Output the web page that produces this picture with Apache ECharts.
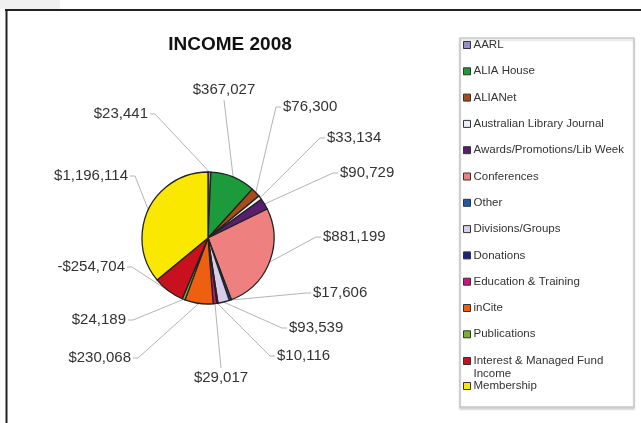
<!DOCTYPE html>
<html>
<head>
<meta charset="utf-8">
<script src="https://cdn.jsdelivr.net/npm/echarts@6/dist/echarts.min.js"></script>
<style>
html,body{margin:0;padding:0;background:#fff;}
#c{width:641px;height:423px;}
</style>
</head>
<body>
<div id="c"></div>
<script>
const categories = [
  'AARL', 'ALIA House', 'ALIANet', 'Australian Library Journal',
  'Awards/Promotions/Lib Week', 'Conferences', 'Other', 'Divisions/Groups',
  'Donations', 'Education & Training', 'inCite', 'Publications',
  'Interest & Managed Fund Income', 'Membership'
];
const amounts = [
  23441, 367027, 76300, 33134,
  90729, 881199, 17606, 93539,
  10116, 29017, 230068, 24189,
  -254704, 1196114
];
const colors = [
  '#9490c8', '#1d9a3c', '#a84a1a', '#e8eef5',
  '#5a1e6e', '#ee8080', '#1f5aa6', '#d6cdeb',
  '#1a2580', '#d0127a', '#ee6010', '#78b030',
  '#c8101e', '#fbe800'
];
const titleText = 'INCOME 2008';

// label placement (layout only): side of the leader end, anchor x, anchor y
const labelAnchors = [
  ['l', 155, 114], ['b', 224, 100], ['r', 276, 107], ['r', 320, 138],
  ['r', 333, 173], ['r', 316, 237], ['r', 306, 293], ['r', 282, 328],
  ['r', 270, 356], ['t', 221, 368], ['l', 138, 358], ['l', 133, 320],
  ['l', 132, 267], ['l', 135, 176]
];

function fmt(v) {
  return (v < 0 ? '-' : '') + '$' + Math.abs(v).toLocaleString('en-US');
}

const pieData = categories.map((name, i) => ({
  name: name,
  value: Math.abs(amounts[i]),
  raw: amounts[i],
  itemStyle: { color: colors[i] }
}));

const FONT = 'Liberation Sans, Arial, sans-serif';
const legendBase = {
  orient: 'vertical',
  left: 463,
  padding: 0,
  icon: 'rect',
  itemWidth: 7,
  itemHeight: 7,
  itemStyle: { borderColor: '#333', borderWidth: 1 },
  textStyle: { fontFamily: FONT, fontSize: 11.5, color: '#333', lineHeight: 13, padding: [0, 0, 0, -2] },
  selectedMode: false
};

const chart = echarts.init(document.getElementById('c'), null, { renderer: 'canvas' });
chart.setOption({
  backgroundColor: '#fff',
  animation: false,
  title: {
    text: titleText,
    left: 225, top: 30,
    textAlign: 'center',
    textStyle: { fontFamily: FONT, fontSize: 19, fontWeight: 'bold', color: '#111' }
  },
  graphic: [
    { type: 'rect', shape: { x: 0, y: 0, width: 60, height: 9 }, style: { fill: '#f0f0f0' }, z: -1 },
    { type: 'line', shape: { x1: 5, y1: 10, x2: 641, y2: 10 }, style: { stroke: '#222', lineWidth: 2 } },
    { type: 'line', shape: { x1: 6.5, y1: 10, x2: 6.5, y2: 423 }, style: { stroke: '#222', lineWidth: 2 } },
    { type: 'rect', shape: { x: 460, y: 38, width: 174, height: 369 },
      style: { fill: '#fff', stroke: '#c8c8c8', lineWidth: 1.5, shadowColor: 'rgba(0,0,0,0.15)', shadowOffsetY: 2, shadowBlur: 2 }, z: -1 }
  ],
  legend: [
    Object.assign({}, legendBase, {
      top: 38.5,
      itemGap: 13.3,
      data: categories.slice(0, 12)
    }),
    Object.assign({}, legendBase, {
      top: 354.5,
      itemHeight: 20,
      icon: 'path://M0,0L7,0L7,7L0,7Z M0,20',
      data: [categories[12]],
      formatter: () => 'Interest & Managed Fund\nIncome'
    }),
    Object.assign({}, legendBase, {
      top: 379.5,
      data: [categories[13]]
    })
  ],
  series: [{
    type: 'pie',
    center: [208, 238],
    radius: 66,
    startAngle: 90,
    clockwise: true,
    avoidLabelOverlap: false,
    itemStyle: { borderColor: '#222', borderWidth: 1.3 },
    label: {
      show: true,
      position: 'outside',
      fontFamily: FONT,
      fontSize: 15,
      color: '#333',
      formatter: p => fmt(p.data.raw)
    },
    labelLine: {
      show: true,
      length: 30,
      length2: 8,
      lineStyle: { color: '#b4b4b4', width: 1 }
    },
    labelLayout: function (params) {
      const a = labelAnchors[params.dataIndex];
      const p0 = params.labelLinePoints ? params.labelLinePoints[0] : [a[1], a[2]];
      const side = a[0], ax = a[1], ay = a[2];
      if (side === 'l') {
        return { x: ax - 7, y: ay, align: 'right', verticalAlign: 'middle',
          labelLinePoints: [p0, [ax, ay], [ax - 5, ay]] };
      } else if (side === 'r') {
        return { x: ax + 7, y: ay, align: 'left', verticalAlign: 'middle',
          labelLinePoints: [p0, [ax, ay], [ax + 5, ay]] };
      } else if (side === 'b') {
        return { x: ax, y: ay - 3, align: 'center', verticalAlign: 'bottom',
          labelLinePoints: [p0, [ax, ay], [ax, ay]] };
      }
      return { x: ax, y: ay + 2, align: 'center', verticalAlign: 'top',
        labelLinePoints: [p0, [ax, ay], [ax, ay]] };
    },
    emphasis: { disabled: true },
    data: pieData
  }]
});
</script>
</body>
</html>
